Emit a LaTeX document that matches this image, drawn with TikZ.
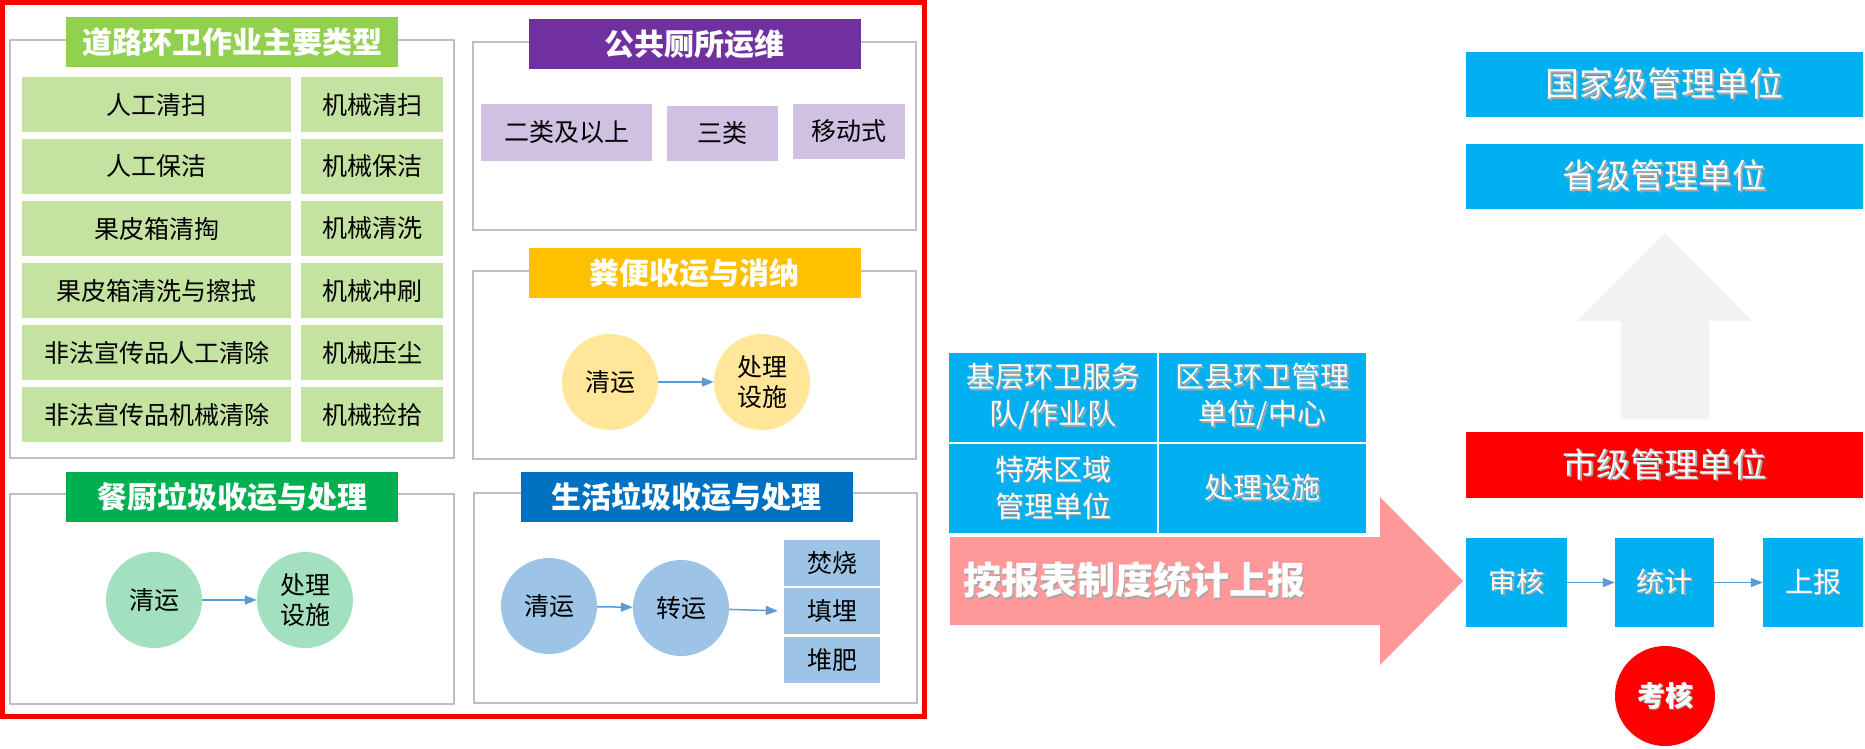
\documentclass[tikz,border=0pt]{standalone}
\usepackage{fontspec}
\setmainfont{Noto Sans CJK SC}
\usetikzlibrary{arrows.meta}
\definecolor{frgray}{HTML}{BFBFBF}
\definecolor{tgreen}{HTML}{92D050}
\definecolor{cgreen}{HTML}{C4E2A0}
\definecolor{tpurple}{HTML}{7030A0}
\definecolor{cpurple}{HTML}{D0C1E2}
\definecolor{tyellow}{HTML}{FFC000}
\definecolor{cyellow}{HTML}{FFE699}
\definecolor{tdgreen}{HTML}{00B050}
\definecolor{cteal}{HTML}{A3E0BF}
\definecolor{tblue}{HTML}{0070C0}
\definecolor{cblue}{HTML}{9DC3E6}
\definecolor{sky}{HTML}{00B0F0}
\definecolor{pink}{HTML}{FF9999}
\definecolor{lgray}{HTML}{F2F2F2}
\definecolor{arr}{HTML}{5B9BD5}
\newcommand\shd[1]{\leavevmode\rlap{\kern1.5pt\raisebox{-1.5pt}{\color{black!35}#1}}#1}
\begin{document}
\begin{tikzpicture}[x=1pt,y=-1pt,
  frame/.style={draw=frgray, line width=2pt},
  title/.style={fill=#1, text=white, inner sep=0, minimum width=332pt, minimum height=50pt,
    font=\fontsize{30}{34}\selectfont\bfseries},
  gcell/.style={fill=cgreen, inner sep=0, minimum height=55pt, font=\fontsize{25}{28}\selectfont},
  pcell/.style={fill=cpurple, inner sep=0, minimum height=55pt, font=\fontsize{25}{28}\selectfont},
  circ/.style={circle, fill=#1, inner sep=0, minimum size=96pt, align=center,
    font=\fontsize{25}{30}\selectfont},
  bcell/.style={fill=cblue, inner sep=0, minimum width=96pt, minimum height=46pt,
    font=\fontsize{25}{30}\selectfont},
  skycell/.style={fill=sky, text=white, inner sep=0, align=center, minimum height=89pt,
    font=\fontsize{29}{37}\selectfont},
  lvl/.style={fill=#1, text=white, inner sep=0, minimum width=397pt, minimum height=65pt,
    font=\fontsize{34}{38}\selectfont},
  sbox/.style={fill=sky, text=white, inner sep=0, minimum height=89pt,
    font=\fontsize{28}{32}\selectfont},
  link/.style={draw=arr, line width=1.5pt, -{Triangle[length=12pt,width=9pt]}}
]
\useasboundingbox (0,0) rectangle (1865,748);
\fill[white] (0,0) rectangle (1865,748);

% red frame
\draw[red, line width=5pt] (2.5,2.5) rectangle (924,716);

% ---------- road cleaning ----------
\draw[frame] (10,40) rectangle (454,458);
\node[title=tgreen] (t1) at (232,42) {道路环卫作业主要类型};
\node[gcell, minimum width=269pt] (g11) at (156.5,104.5) {人工清扫};
\node[gcell, minimum width=142pt] (g12) at (372,104.5) {机械清扫};
\node[gcell, minimum width=269pt] (g21) at (156.5,166.5) {人工保洁};
\node[gcell, minimum width=142pt] (g22) at (372,166.5) {机械保洁};
\node[gcell, minimum width=269pt] (g31) at (156.5,228.5) {果皮箱清掏};
\node[gcell, minimum width=142pt] (g32) at (372,228.5) {机械清洗};
\node[gcell, minimum width=269pt] (g41) at (156.5,290.5) {果皮箱清洗与擦拭};
\node[gcell, minimum width=142pt] (g42) at (372,290.5) {机械冲刷};
\node[gcell, minimum width=269pt] (g51) at (156.5,352.5) {非法宣传品人工清除};
\node[gcell, minimum width=142pt] (g52) at (372,352.5) {机械压尘};
\node[gcell, minimum width=269pt] (g61) at (156.5,414.5) {非法宣传品机械清除};
\node[gcell, minimum width=142pt] (g62) at (372,414.5) {机械捡拾};

% ---------- toilets ----------
\draw[frame] (473,42) rectangle (916,230);
\node[title=tpurple] (t2) at (694.5,44) {公共厕所运维};
\node[pcell, minimum width=171pt, minimum height=57pt] (p1) at (566.5,132.5) {二类及以上};
\node[pcell, minimum width=111pt] (p2) at (722.5,133.5) {三类};
\node[pcell, minimum width=112pt] (p3) at (849,131.5) {移动式};

% ---------- night soil ----------
\draw[frame] (473,271) rectangle (916,459);
\node[title=tyellow] (t3) at (694.5,273) {粪便收运与消纳};
\node[circ=cyellow] (y1) at (610,382) {清运};
\node[circ=cyellow] (y2) at (762,382) {处理\\设施};
\draw[link] (y1) -- (y2);

% ---------- kitchen waste ----------
\draw[frame] (10,494) rectangle (454,704);
\node[title=tdgreen] (t4) at (232,497) {餐厨垃圾收运与处理};
\node[circ=cteal] (k1) at (154,600) {清运};
\node[circ=cteal] (k2) at (305,600) {处理\\设施};
\draw[link] (k1) -- (k2);

% ---------- domestic waste ----------
\draw[frame] (474,493) rectangle (917,703);
\node[title=tblue] (t5) at (686.5,497) {生活垃圾收运与处理};
\node[circ=cblue] (d1) at (549,606) {清运};
\node[circ=cblue] (d2) at (681,608) {转运};
\node[bcell] (b1) at (832,563) {焚烧};
\node[bcell] (b2) at (832,611) {填埋};
\node[bcell] (b3) at (832,660) {堆肥};
\draw[link] (d1) -- (d2);
\draw[link, shorten >=6pt] (d2) -- (b2.west);

% ---------- reporting units ----------
\node[skycell, minimum width=208pt] (s1) at (1053,397.5) {\shd{基层环卫服务}\\\shd{队/作业队}};
\node[skycell, minimum width=207pt] (s2) at (1262.5,397.5) {\shd{区县环卫管理}\\\shd{单位/中心}};
\node[skycell, minimum width=208pt] (s3) at (1053,488.5) {\shd{特殊区域}\\\shd{管理单位}};
\node[skycell, minimum width=207pt] (s4) at (1262.5,488.5) {\shd{处理设施}};

% big pink arrow
\fill[pink] (950,537) -- (1380,537) -- (1380,497) -- (1463,581) -- (1380,665) -- (1380,625) -- (950,625) -- cycle;
\node[anchor=west, text=white, inner sep=0, font=\fontsize{38}{40}\selectfont\bfseries] (rep) at (963,581) {\shd{按报表制度统计上报}};

% ---------- levels ----------
\node[lvl=sky] (n1) at (1664.5,84.5) {\shd{国家级管理单位}};
\node[lvl=sky] (n2) at (1664.5,176.5) {\shd{省级管理单位}};
\fill[lgray] (1621,419) -- (1621,321) -- (1577,321) -- (1665,233) -- (1752,321) -- (1709,321) -- (1709,419) -- cycle;
\node[lvl=red, minimum height=66pt] (n3) at (1664.5,465) {\shd{市级管理单位}};

\node[sbox, minimum width=101pt] (a1) at (1516.5,582.5) {\shd{审核}};
\node[sbox, minimum width=99pt] (a2) at (1664.5,582.5) {\shd{统计}};
\node[sbox, minimum width=100pt] (a3) at (1813,582.5) {\shd{上报}};
\draw[link] (a1) -- (a2);
\draw[link] (a2) -- (a3);

\node[circle, fill=red, text=white, inner sep=0, minimum size=100pt,
  font=\fontsize{28}{32}\selectfont\bfseries] (kh) at (1665,696) {\shd{考核}};
\end{tikzpicture}
\end{document}
